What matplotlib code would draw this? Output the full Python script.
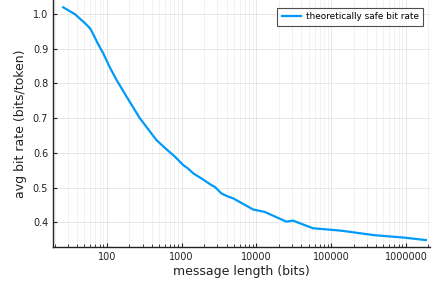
import matplotlib
matplotlib.use("Agg")
import matplotlib.pyplot as plt
from matplotlib.ticker import LogLocator, FixedLocator, NullFormatter

msg_len = [26, 37.4, 51, 59.7, 64.7, 75.4, 89, 110, 134.5, 183, 275, 459, 599, 813, 1047,
           1200, 1430, 1848, 2512, 2780, 3415, 3981, 4887, 9034, 12900, 25100, 30800,
           57000, 136000, 378000, 949000, 1850000]
bit_rate = [1.019, 0.999, 0.973, 0.958, 0.944, 0.915, 0.887, 0.845, 0.810, 0.762, 0.700,
            0.637, 0.614, 0.589, 0.565, 0.556, 0.541, 0.526, 0.507, 0.502, 0.483, 0.476,
            0.469, 0.437, 0.430, 0.402, 0.405, 0.383, 0.376, 0.363, 0.356, 0.349]
x_ticks = [100, 1000, 10000, 100000, 1000000]
x_ticklabels = ["100", "1000", "10000", "100000", "1000000"]
y_ticks = [0.4, 0.5, 0.6, 0.7, 0.8, 0.9, 1.0]
y_ticklabels = ["0.4", "0.5", "0.6", "0.7", "0.8", "0.9", "1.0"]

fig = plt.figure(figsize=(4.34, 2.81), dpi=100)
ax = fig.add_axes([53/434, (281-247)/281, (430-53)/434, 247/281])
ax.plot(msg_len, bit_rate, color="#009AFA", lw=1.6, label="theoretically safe bit rate")
ax.set_xscale("log")
ax.set_xlim(19, 2.1e6)
ax.set_ylim(0.329, 1.04)
ax.xaxis.set_major_locator(FixedLocator(x_ticks))
ax.set_xticklabels(x_ticklabels)
ax.xaxis.set_minor_locator(LogLocator(base=10, subs=range(2, 10), numticks=20))
ax.xaxis.set_minor_formatter(NullFormatter())
ax.set_yticks(y_ticks)
ax.set_yticklabels(y_ticklabels)
ax.grid(True, which="major", color="#e3e3e3", lw=0.6)
ax.grid(True, which="minor", axis="x", color="#ececec", lw=0.5)
ax.set_axisbelow(True)
for s in ["top", "right"]:
    ax.spines[s].set_visible(False)
for s in ["left", "bottom"]:
    ax.spines[s].set_color("#222222")
    ax.spines[s].set_linewidth(1.0)
ax.tick_params(axis="both", which="major", direction="in", length=3, labelsize=7,
               colors="#222222", width=0.8)
ax.tick_params(axis="x", which="minor", direction="in", length=2, width=0.6, colors="#222222")
ax.set_xlabel("message length (bits)", fontsize=9, color="#222222", labelpad=2)
ax.set_ylabel("avg bit rate (bits/token)", fontsize=9, color="#222222", labelpad=4)
leg = ax.legend(loc="upper right", fontsize=6.4, frameon=True, fancybox=False,
                edgecolor="#222222", handlelength=2.2, handletextpad=0.5, borderpad=0.5,
                borderaxespad=0,
                bbox_to_anchor=(423/434, 1 - 8/281),
                bbox_transform=fig.transFigure)
leg.get_frame().set_linewidth(0.8)
fig.savefig("out.png", dpi=100)
